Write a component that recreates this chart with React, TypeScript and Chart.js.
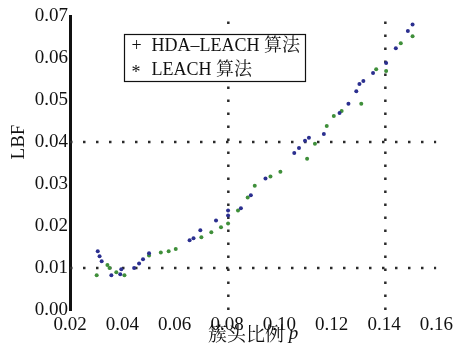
import React, { useEffect, useRef } from "react";
import { Chart, registerables } from "chart.js";

Chart.register(...registerables);

// HDA-LEACH algorithm (+)
const hdaX = [0.0306, 0.0313, 0.0321, 0.0358, 0.0392, 0.0396, 0.0445, 0.0464, 0.0479, 0.0502, 0.0657, 0.0672, 0.0698, 0.0758, 0.0804, 0.0804, 0.0853, 0.0891, 0.0947, 0.1057, 0.1075, 0.1098, 0.1113, 0.1170, 0.1230, 0.1264, 0.1294, 0.1306, 0.1321, 0.1358, 0.1408, 0.1445, 0.1491, 0.1509];
const hdaY = [0.0140, 0.0128, 0.0116, 0.0083, 0.0085, 0.0097, 0.0100, 0.0111, 0.0121, 0.0135, 0.0166, 0.0171, 0.0190, 0.0213, 0.0237, 0.0225, 0.0242, 0.0273, 0.0313, 0.0374, 0.0386, 0.0403, 0.0410, 0.0419, 0.0469, 0.0491, 0.0521, 0.0538, 0.0545, 0.0564, 0.0588, 0.0623, 0.0664, 0.0680];

// LEACH algorithm (*)
const leachX = [0.0302, 0.0343, 0.0351, 0.0377, 0.0408, 0.0502, 0.0547, 0.0577, 0.0604, 0.0702, 0.0740, 0.0777, 0.0804, 0.0842, 0.0879, 0.0906, 0.0966, 0.1004, 0.1106, 0.1136, 0.1181, 0.1208, 0.1238, 0.1313, 0.1370, 0.1408, 0.1464, 0.1509];
const leachY = [0.0083, 0.0107, 0.0100, 0.0090, 0.0083, 0.0130, 0.0137, 0.0140, 0.0145, 0.0173, 0.0185, 0.0197, 0.0206, 0.0237, 0.0268, 0.0296, 0.0318, 0.0329, 0.0360, 0.0396, 0.0438, 0.0462, 0.0474, 0.0491, 0.0573, 0.0569, 0.0635, 0.0652];

// dotted reference lines
const refX = [0.0805, 0.1405];
const refY = [0.04, 0.01];

const xMin = 0.02, xMax = 0.16, xStep = 0.02;
const yMin = 0, yMax = 0.07, yStep = 0.01;

const legendLines = [
  { sym: "+", text: "HDA\u2013LEACH 算法" },
  { sym: "*", text: "LEACH 算法" },
];
const xTitle = "簇头比例";
const xTitleVar = "p";
const yTitle = "LBF";

const SERIF = '"Liberation Serif", "Noto Serif CJK SC", "Noto Sans CJK SC", serif';

export default function App() {
  const ref = useRef<HTMLCanvasElement | null>(null);
  useEffect(() => {
    const canvas = ref.current;
    if (!canvas) return;
    const dotted = {
      borderColor: "#2a2a2a",
      borderWidth: 2.5,
      borderDash: [2.5, 10.5],
      borderDashOffset: 0,
      pointRadius: 0,
      showLine: true,
      fill: false,
      order: 5,
    };
    const refSets: any[] = [];
    refX.forEach((v) =>
      refSets.push({ ...dotted, data: [{ x: v, y: yMin }, { x: v, y: yMax }] })
    );
    refY.forEach((v) =>
      refSets.push({ ...dotted, data: [{ x: xMin, y: v }, { x: xMax, y: v }] })
    );

    const overlay = {
      id: "overlay",
      afterDraw(chart: any) {
        const ctx = chart.ctx as CanvasRenderingContext2D;
        const ca = chart.chartArea;
        ctx.save();
        // legend box
        const bx = 124.5, by = 34.5, bw = 181, bh = 47;
        ctx.fillStyle = "#fff";
        ctx.fillRect(bx, by, bw, bh);
        ctx.strokeStyle = "#111";
        ctx.lineWidth = 1.2;
        ctx.strokeRect(bx, by, bw, bh);
        ctx.fillStyle = "#111";
        ctx.font = `18px ${SERIF}`;
        ctx.textBaseline = "middle";
        ctx.textAlign = "left";
        legendLines.forEach((l, i) => {
          const yy = by + 12 + i * 24;
          ctx.fillText(l.sym, bx + 7, yy + (l.sym === "*" ? 3 : 0));
          ctx.fillText(l.text, bx + 27, yy);
        });
        // x title
        ctx.font = `19px ${SERIF}`;
        const w1 = ctx.measureText(xTitle + " ").width;
        ctx.font = `italic 19px ${SERIF}`;
        const w2 = ctx.measureText(xTitleVar).width;
        const cx = (ca.left + ca.right) / 2;
        const startX = cx - (w1 + w2) / 2;
        ctx.font = `19px ${SERIF}`;
        ctx.fillText(xTitle + " ", startX, 336);
        ctx.font = `italic 19px ${SERIF}`;
        ctx.fillText(xTitleVar, startX + w1, 334);
        // y title
        ctx.translate(19, 142);
        ctx.rotate(-Math.PI / 2);
        ctx.textAlign = "center";
        ctx.font = `19px ${SERIF}`;
        ctx.fillText(yTitle, 0, 0);
        ctx.restore();
      },
    };

    const chart = new Chart(canvas, {
      type: "scatter",
      data: {
        datasets: [
          {
            label: "HDA-LEACH",
            data: hdaX.map((x, i) => ({ x, y: hdaY[i] })),
            backgroundColor: "#2b2f8f",
            borderColor: "#2b2f8f",
            pointRadius: 2,
            pointBorderWidth: 0,
            order: 1,
          },
          {
            label: "LEACH",
            data: leachX.map((x, i) => ({ x, y: leachY[i] })),
            backgroundColor: "#3f8f3a",
            borderColor: "#3f8f3a",
            pointRadius: 2,
            pointBorderWidth: 0,
            order: 2,
          },
          ...refSets,
        ],
      },
      options: {
        animation: false,
        responsive: false,
        maintainAspectRatio: false,
        layout: { padding: { top: 16, right: 16, left: 0, bottom: 0 } },
        plugins: { legend: { display: false }, tooltip: { enabled: false } },
        scales: {
          x: {
            type: "linear",
            min: xMin,
            max: xMax,
            afterFit: (s: any) => { s.height = 43; },
            afterBuildTicks: (s: any) => {
              const t = [];
              for (let i = 0; i <= Math.round((xMax - xMin) / xStep); i++) t.push({ value: +(xMin + i * xStep).toFixed(4) });
              s.ticks = t;
            },
            ticks: {
              color: "#111",
              font: { family: SERIF, size: 19 },
              padding: 4,
              maxRotation: 0,
              callback: (v: any) => Number(v).toFixed(2),
            },
            grid: { display: false, drawTicks: false },
            border: { display: false },
          },
          y: {
            type: "linear",
            min: yMin,
            max: yMax,
            afterFit: (s: any) => { s.width = 70; },
            afterBuildTicks: (s: any) => {
              const t = [];
              for (let i = 0; i <= Math.round((yMax - yMin) / yStep); i++) t.push({ value: +(yMin + i * yStep).toFixed(4) });
              s.ticks = t;
            },
            ticks: {
              color: "#111",
              font: { family: SERIF, size: 19 },
              padding: 2,
              callback: (v: any) => Number(v).toFixed(2),
            },
            grid: { display: false, drawTicks: false },
            border: { display: true, color: "#111", width: 3 },
          },
        },
      },
      plugins: [overlay],
    } as any);
    return () => chart.destroy();
  }, []);
  return (
    <div style={{ position: "fixed", left: 0, top: 0, width: 457, height: 353, background: "#fff" }}>
      <canvas ref={ref} width={457} height={353} style={{ width: 457, height: 353, display: "block" }} />
    </div>
  );
}
